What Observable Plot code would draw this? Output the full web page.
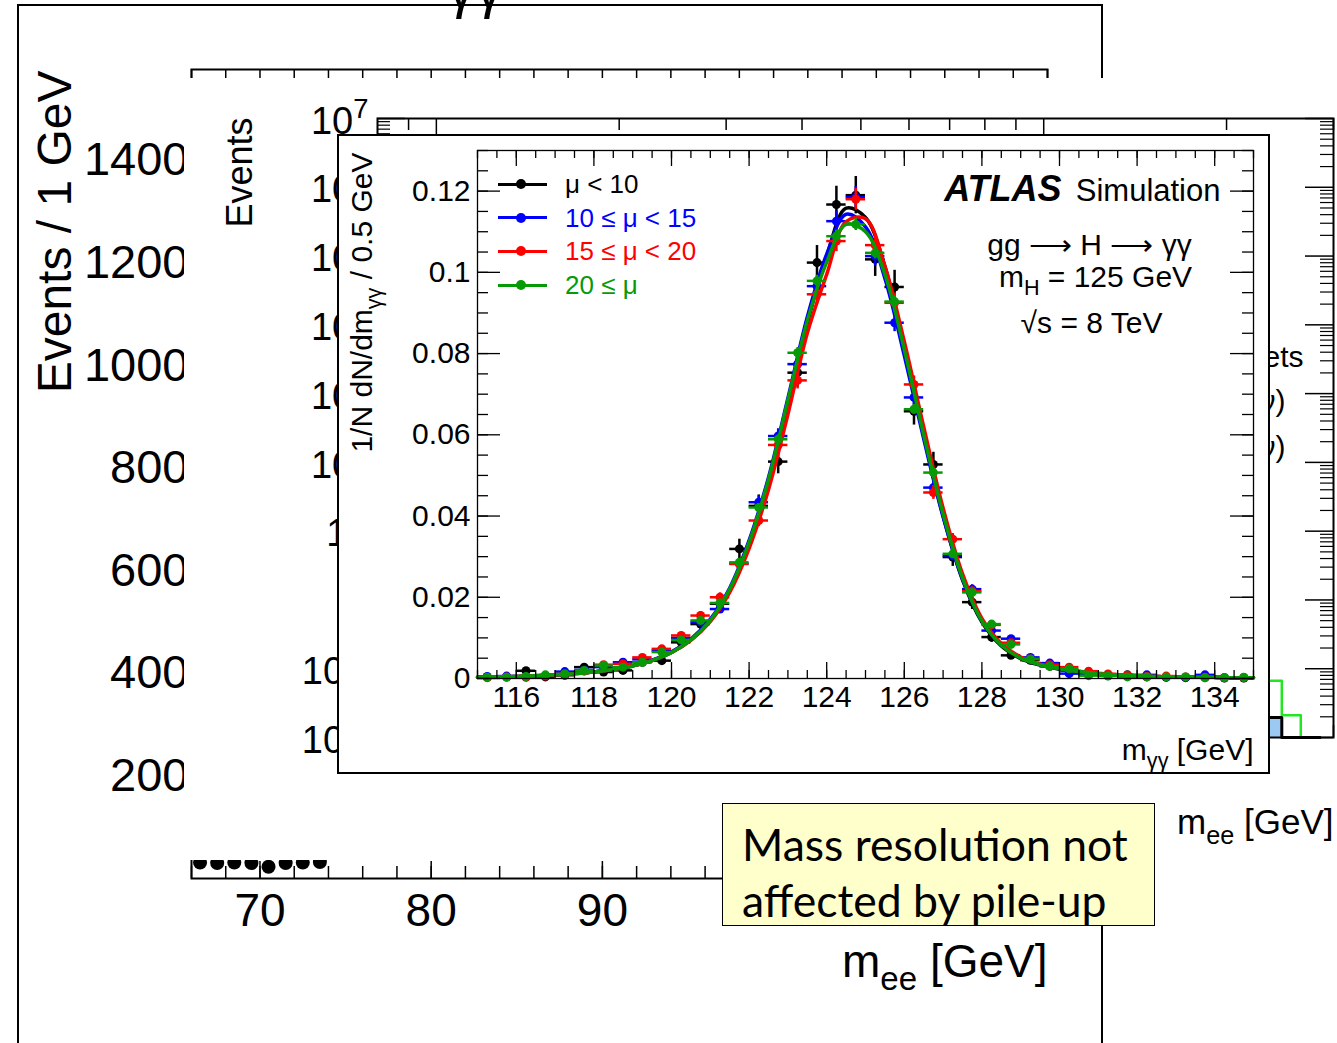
<!DOCTYPE html>
<html><head><meta charset="utf-8">
<script src="https://cdn.jsdelivr.net/npm/d3@7"></script>
<script src="https://cdn.jsdelivr.net/npm/@observablehq/plot@0.6"></script>
<style>
html,body{margin:0;padding:0;width:1337px;height:1043px;overflow:hidden;background:#fff;font-family:"Liberation Sans",Arial,Helvetica,sans-serif;}
.abs{position:absolute;}
#p1{left:17px;top:4px;width:1086px;height:1100px;border:2px solid #000;box-sizing:border-box;background:#fff;}
#p2{left:184px;top:78px;width:1153px;height:782px;background:#fff;}
#p3{left:337px;top:134px;width:933px;height:640px;border:2px solid #000;box-sizing:border-box;background:#fff;}
#note{left:722px;top:803px;width:433px;height:123px;border:1.5px solid #000;box-sizing:border-box;background:#ffffcc;font-family:Lato,"Open Sans",sans-serif;font-size:44.5px;color:#000;}
#note div{position:absolute;left:19px;white-space:nowrap;line-height:44.5px;}
#frag{left:447px;top:-40px;font-size:56px;line-height:56px;}
.panel svg{position:absolute;left:0;top:0;}
</style></head>
<body>
<div id="p1" class="abs panel"></div>
<div id="frag" class="abs">γγ</div>
<div id="p2" class="abs panel"></div>
<div id="p3" class="abs panel"></div>
<div id="note" class="abs"><div style="top:18px">Mass resolution not</div><div style="top:74px">affected by pile-up</div></div>
<script>
// ================= DATA =================
// Front panel: ATLAS Simulation, gg -> H -> yy, normalised m_yy per 0.5 GeV
const massBins = [115.25,115.75,116.25,116.75,117.25,117.75,118.25,118.75,119.25,119.75,120.25,120.75,121.25,121.75,122.25,122.75,123.25,123.75,124.25,124.75,125.25,125.75,126.25,126.75,127.25,127.75,128.25,128.75,129.25,129.75,130.25,130.75,131.25,131.75,132.25,132.75,133.25,133.75,134.25,134.75];
const binHalfWidth = 0.25;
const fitMass = [115,115.5,116,116.5,117,117.5,118,118.5,119,119.5,120,120.5,121,121.5,122,122.5,123,123.5,124,124.5,125,125.5,126,126.5,127,127.5,128,128.5,129,129.5,130,130.5,131,131.5,132,132.5,133,133.5,134,134.5,135];
const seriesLabels = ["μ < 10", "10 ≤ μ < 15", "15 ≤ μ < 20", "20 ≤ μ"];
const seriesColors = ["#000000", "#0000ff", "#ff0000", "#079a07"];

const valMu0 = [0.0003,0.0004,0.0019,0.0004,0.0008,0.0028,0.0016,0.0020,0.0040,0.0044,0.0089,0.0134,0.0184,0.0319,0.0425,0.0534,0.0753,0.1024,0.1167,0.1190,0.1032,0.0964,0.0658,0.0527,0.0299,0.0188,0.0102,0.0057,0.0045,0.0030,0.0020,0.0012,0.0008,0.0009,0.0004,0.0003,0.0002,0.0002,0.0001,0.0001];
const errMu0 = [0.0002,0.0003,0.0006,0.0003,0.0004,0.0007,0.0005,0.0006,0.0008,0.0009,0.0012,0.0015,0.0018,0.0024,0.0027,0.0030,0.0036,0.0042,0.0045,0.0046,0.0042,0.0041,0.0034,0.0030,0.0023,0.0018,0.0013,0.0010,0.0009,0.0007,0.0006,0.0005,0.0004,0.0004,0.0003,0.0002,0.0002,0.0002,0.0001,0.0001];
const fitMu0 = [0.0003,0.0004,0.0005,0.0007,0.0009,0.0012,0.0016,0.0022,0.0031,0.0044,0.0064,0.0095,0.0143,0.0218,0.0330,0.0482,0.0675,0.0875,0.1040,0.1158,0.1135,0.1015,0.0815,0.0598,0.0400,0.0243,0.0139,0.0080,0.0049,0.0033,0.0023,0.0016,0.0012,0.0009,0.0007,0.0005,0.0004,0.0003,0.0003,0.0002,0.0002];

const valMu1 = [0.0005,0.0006,0.0004,0.0007,0.0017,0.0021,0.0028,0.0040,0.0047,0.0069,0.0100,0.0139,0.0171,0.0283,0.0434,0.0597,0.0774,0.0966,0.1126,0.1185,0.1040,0.0876,0.0692,0.0470,0.0303,0.0220,0.0118,0.0098,0.0052,0.0038,0.0012,0.0010,0.0007,0.0006,0.0009,0.0004,0.0003,0.0009,0.0002,0.0002];
const errMu1 = [0.0002,0.0002,0.0002,0.0002,0.0003,0.0003,0.0004,0.0005,0.0005,0.0006,0.0008,0.0009,0.0010,0.0013,0.0016,0.0018,0.0021,0.0023,0.0025,0.0026,0.0024,0.0022,0.0020,0.0016,0.0013,0.0011,0.0008,0.0007,0.0005,0.0005,0.0003,0.0002,0.0002,0.0002,0.0002,0.0002,0.0001,0.0002,0.0001,0.0001];
const fitMu1 = [0.0003,0.0004,0.0005,0.0007,0.0009,0.0012,0.0016,0.0022,0.0031,0.0045,0.0066,0.0097,0.0146,0.0223,0.0340,0.0495,0.0690,0.0890,0.1045,0.1143,0.1112,0.0985,0.0795,0.0590,0.0398,0.0245,0.0142,0.0083,0.0051,0.0034,0.0024,0.0017,0.0012,0.0009,0.0007,0.0005,0.0004,0.0003,0.0003,0.0002,0.0002];

const valMu2 = [0.0002,0.0004,0.0003,0.0006,0.0011,0.0018,0.0034,0.0036,0.0052,0.0073,0.0106,0.0155,0.0200,0.0282,0.0389,0.0575,0.0734,0.0946,0.1077,0.1180,0.1067,0.0925,0.0724,0.0458,0.0343,0.0215,0.0132,0.0088,0.0048,0.0034,0.0028,0.0018,0.0011,0.0008,0.0005,0.0006,0.0004,0.0003,0.0002,0.0002];
const errMu2 = [0.0001,0.0002,0.0001,0.0002,0.0003,0.0003,0.0005,0.0005,0.0006,0.0007,0.0008,0.0010,0.0011,0.0013,0.0015,0.0019,0.0021,0.0024,0.0026,0.0027,0.0025,0.0024,0.0021,0.0017,0.0014,0.0011,0.0009,0.0007,0.0005,0.0005,0.0004,0.0003,0.0003,0.0002,0.0002,0.0002,0.0002,0.0001,0.0001,0.0001];
const fitMu2 = [0.0003,0.0004,0.0005,0.0007,0.0009,0.0012,0.0016,0.0022,0.0031,0.0044,0.0064,0.0094,0.0140,0.0212,0.0320,0.0465,0.0650,0.0850,0.0995,0.1125,0.1132,0.1015,0.0830,0.0620,0.0420,0.0258,0.0148,0.0086,0.0053,0.0035,0.0025,0.0018,0.0013,0.0009,0.0007,0.0005,0.0004,0.0003,0.0003,0.0002,0.0002];

const valMu3 = [0.0003,0.0003,0.0005,0.0009,0.0011,0.0020,0.0032,0.0028,0.0040,0.0065,0.0095,0.0143,0.0186,0.0286,0.0421,0.0589,0.0802,0.0979,0.1089,0.1118,0.1048,0.0928,0.0663,0.0507,0.0307,0.0212,0.0134,0.0084,0.0048,0.0030,0.0024,0.0007,0.0006,0.0004,0.0004,0.0004,0.0004,0.0002,0.0002,0.0003];
const errMu3 = [0.0001,0.0001,0.0001,0.0001,0.0002,0.0002,0.0003,0.0002,0.0003,0.0004,0.0004,0.0005,0.0006,0.0008,0.0009,0.0011,0.0013,0.0014,0.0015,0.0015,0.0015,0.0014,0.0012,0.0010,0.0008,0.0007,0.0005,0.0004,0.0003,0.0003,0.0002,0.0001,0.0001,0.0001,0.0001,0.0001,0.0001,0.0001,0.0001,0.0001];
const fitMu3 = [0.0003,0.0004,0.0005,0.0007,0.0009,0.0012,0.0016,0.0022,0.0031,0.0044,0.0064,0.0095,0.0143,0.0220,0.0335,0.0490,0.0685,0.0880,0.1025,0.1118,0.1100,0.0995,0.0810,0.0600,0.0405,0.0248,0.0142,0.0082,0.0050,0.0034,0.0024,0.0017,0.0012,0.0009,0.0007,0.0005,0.0004,0.0003,0.0003,0.0002,0.0002];

const yyTickLabels = [116,118,120,122,124,126,128,130,132,134];
const yyYTickLabels = [0,0.02,0.04,0.06,0.08,0.1,0.12];

// Back panel 1: Z -> ee, Events / 1 GeV (only the visible corner)
const eeBins = [66.5,67.5,68.5,69.5,70.5,71.5,72.5,73.5];
const eeEvents = [31,30,31,30,23,30,31,32];
const eeYTickLabels = [200,400,600,800,1000,1200,1400];
const eeXTickLabels = [70,80,90];

// Back panel 2: log-log m_ee spectrum (only the visible right edge)
const spectrumEdges = [2300, 2466, 2650, 2850];
const greenHist = [0.067, 0.021, 0.004];
const blueHist = [0.0195, 0, 0];
const blackHist = [0.0195, 0.004, 0.004];
const spectrumLegend = ["W+jets", "W(→eν)", "W(→τν)"];

// ================= HELPERS =================
const FONT = '"Liberation Sans", Arial, Helvetica, sans-serif';
function richify(svg) {
  svg.querySelectorAll("text").forEach(el => {
    const s = el.textContent;
    if (!/[_^]\{/.test(s)) return;
    const fs = parseFloat(getComputedStyle(el).fontSize) || 16;
    const parts = s.split(/([_^]\{[^}]*\})/).filter(p => p.length);
    el.textContent = "";
    let shift = 0;
    for (const p of parts) {
      let txt = p, off = 0, size = null;
      if (p[0] === "_") { txt = p.slice(2, -1); off = 0.28 * fs; size = 0.72 * fs; }
      else if (p[0] === "^") { txt = p.slice(2, -1); off = -0.42 * fs; size = 0.72 * fs; }
      const t = document.createElementNS("http://www.w3.org/2000/svg", "tspan");
      t.setAttribute("dy", (off - shift).toFixed(2));
      if (size) t.setAttribute("font-size", size.toFixed(1));
      t.textContent = txt;
      el.appendChild(t);
      shift = off;
    }
  });
}
function mount(id, svg) {
  document.getElementById(id).appendChild(svg);
  richify(svg);
}

// ================= PANEL 1 =================
{
  const W = 1082, H = 1040, mL = 172, mR = 54, mT = 63, mB = 168;
  const fh = H - mT - mB;
  const ticks2 = d3.range(66, 116.01, 2);
  const ticks10 = d3.range(70, 116, 10);
  const pts = eeBins.map((m, i) => ({m, n: eeEvents[i]}));
  const svg = Plot.plot({
    width: W, height: H, marginLeft: mL, marginRight: mR, marginTop: mT, marginBottom: mB,
    style: {fontFamily: FONT, background: "transparent"},
    x: {domain: [66, 116]}, y: {domain: [0, 1577]},
    marks: [
      Plot.frame({stroke: "#000", strokeWidth: 2}),
      Plot.tickX(ticks2, {x: d => d, insetBottom: fh - 10, stroke: "#000", strokeWidth: 1.5}),
      Plot.tickX(ticks2, {x: d => d, insetTop: fh - 12, stroke: "#000", strokeWidth: 1.5}),
      Plot.tickX(ticks10, {x: d => d, insetTop: fh - 17, stroke: "#000", strokeWidth: 1.5}),
      Plot.axisY({ticks: eeYTickLabels, tickSize: 0, tickPadding: 3, fontSize: 47, tickFormat: d => String(d), label: null}),
      Plot.axisX({ticks: eeXTickLabels, tickSize: 0, tickPadding: 15, fontSize: 46, tickFormat: d => String(d), label: null}),
      Plot.dot(pts, {x: "m", y: "n", r: 7, fill: "#000"}),
      Plot.text(["Events / 1 GeV"], {frameAnchor: "top-left", dx: -136, dy: 1, rotate: -90, textAnchor: "end", lineAnchor: "middle", fontSize: 48, fill: "#000"}),
      Plot.text(["m_{ee} [GeV]"], {frameAnchor: "bottom-right", dx: 0, dy: 84, textAnchor: "end", lineAnchor: "middle", fontSize: 46, fill: "#000"})
    ]
  });
  mount("p1", svg);
}

// ================= PANEL 2 =================
{
  const W = 1153, H = 782, mL = 193, mR = 4, mT = 40, mB = 123;
  const fh = H - mT - mB, fw = W - mL - mR;
  const yMin = 0.01;
  const decades = [0.01, 0.1, 1, 10, 1e2, 1e3, 1e4, 1e5, 1e6, 1e7];
  const minorY = decades.slice(0, -1).flatMap(d => d3.range(2, 10).map(k => k * d));
  const majorX = [100, 1000];
  const minorX = [90, 200, 300, 400, 500, 600, 700, 800, 900, 2000, 3000];
  const step = vals => vals.flatMap((v, i) => [
    {m: spectrumEdges[i], v: Math.max(v, yMin)}, {m: spectrumEdges[i + 1], v: Math.max(v, yMin)}]);
  const blueRects = blueHist.map((v, i) => ({x1: spectrumEdges[i], x2: spectrumEdges[i + 1], v})).filter(d => d.v > yMin);
  const fmt = d => { const e = Math.round(Math.log10(d)); return e === 0 ? "1" : e === 1 ? "10" : "10^{" + e + "}"; };
  const svg = Plot.plot({
    width: W, height: H, marginLeft: mL, marginRight: mR, marginTop: mT, marginBottom: mB,
    style: {fontFamily: FONT, background: "transparent"},
    x: {type: "log", domain: [80, 3000], axis: null},
    y: {type: "log", domain: [yMin, 1e7]},
    marks: [
      Plot.rect(blueRects, {x1: "x1", x2: "x2", y1: () => yMin, y2: "v", fill: "#9cc8f4"}),
      Plot.line(step(greenHist), {x: "m", y: "v", stroke: "#22e622", strokeWidth: 2.5}),
      Plot.line(step(blackHist), {x: "m", y: "v", stroke: "#000", strokeWidth: 3}),
      Plot.frame({stroke: "#000", strokeWidth: 2}),
      Plot.tickX(majorX, {x: d => d, insetBottom: fh - 23, stroke: "#000", strokeWidth: 1.5}),
      Plot.tickX(minorX, {x: d => d, insetBottom: fh - 12, stroke: "#000", strokeWidth: 1.5}),
      Plot.tickX(majorX, {x: d => d, insetTop: fh - 23, stroke: "#000", strokeWidth: 1.5}),
      Plot.tickX(minorX, {x: d => d, insetTop: fh - 12, stroke: "#000", strokeWidth: 1.5}),
      Plot.tickY(decades, {y: d => d, insetRight: fw - 28, stroke: "#000", strokeWidth: 1.5}),
      Plot.tickY(minorY, {y: d => d, insetRight: fw - 13, stroke: "#000", strokeWidth: 1.2}),
      Plot.tickY(decades, {y: d => d, insetLeft: fw - 28, stroke: "#000", strokeWidth: 1.5}),
      Plot.tickY(minorY, {y: d => d, insetLeft: fw - 13, stroke: "#000", strokeWidth: 1.2}),
      Plot.axisY({ticks: decades, tickSize: 0, tickPadding: 9, dy: 3, fontSize: 38, tickFormat: fmt, label: null}),
      Plot.text(["Events"], {frameAnchor: "top-left", dx: -137, dy: -1, rotate: -90, textAnchor: "end", lineAnchor: "middle", fontSize: 36, fill: "#000"}),
      Plot.text([spectrumLegend[0]], {frameAnchor: "top-right", dx: -30, dy: 239, textAnchor: "end", lineAnchor: "middle", fontSize: 30, fill: "#000"}),
      Plot.text([spectrumLegend[1]], {frameAnchor: "top-right", dx: -48, dy: 283, textAnchor: "end", lineAnchor: "middle", fontSize: 30, fill: "#000"}),
      Plot.text([spectrumLegend[2]], {frameAnchor: "top-right", dx: -48, dy: 329, textAnchor: "end", lineAnchor: "middle", fontSize: 30, fill: "#000"}),
      Plot.text(["m_{ee} [GeV]"], {frameAnchor: "bottom-right", dx: 0, dy: 85, textAnchor: "end", lineAnchor: "middle", fontSize: 35, fill: "#000"})
    ]
  });
  mount("p2", svg);
}

// ================= PANEL 3 (front) =================
{
  const W = 929, H = 636, mL = 138, mR = 15, mT = 14, mB = 94;
  const fh = H - mT - mB, fw = W - mL - mR;
  const minorX = d3.range(115, 135.01, 0.5);
  const majorX = d3.range(116, 135, 2);
  const minorY = d3.range(0, 0.1301, 0.005);
  const majorY = yyYTickLabels;
  const vals = [valMu0, valMu1, valMu2, valMu3];
  const errs = [errMu0, errMu1, errMu2, errMu3];
  const fits = [fitMu0, fitMu1, fitMu2, fitMu3];
  const dataMarks = [];
  vals.forEach((vv, s) => {
    const color = seriesColors[s];
    const pts = massBins.map((m, i) => ({m, v: vv[i], e: errs[s][i]}));
    const fit = fitMass.map((m, i) => ({m, v: fits[s][i]}));
    dataMarks.push(
      Plot.ruleY(pts, {y: "v", x1: d => d.m - binHalfWidth, x2: d => d.m + binHalfWidth, stroke: color, strokeWidth: 2.5}),
      Plot.ruleX(pts, {x: "m", y1: d => d.v - d.e, y2: d => d.v + d.e, stroke: color, strokeWidth: 2.5}),
      Plot.dot(pts, {x: "m", y: "v", r: 4.5, fill: color}),
      Plot.line(fit, {x: "m", y: "v", stroke: color, strokeWidth: 3.5, curve: "catmull-rom"})
    );
  });
  const svg = Plot.plot({
    width: W, height: H, marginLeft: mL, marginRight: mR, marginTop: mT, marginBottom: mB,
    style: {fontFamily: FONT, background: "transparent"},
    x: {domain: [115, 135]}, y: {domain: [0, 0.13]},
    marks: [
      ...dataMarks,
      Plot.frame({stroke: "#000", strokeWidth: 1.3}),
      Plot.tickX(minorX, {x: d => d, insetTop: fh - 8, stroke: "#000", strokeWidth: 1.3}),
      Plot.tickX(majorX, {x: d => d, insetTop: fh - 16, stroke: "#000", strokeWidth: 1.3}),
      Plot.tickX(minorX, {x: d => d, insetBottom: fh - 8, stroke: "#000", strokeWidth: 1.3}),
      Plot.tickX(majorX, {x: d => d, insetBottom: fh - 16, stroke: "#000", strokeWidth: 1.3}),
      Plot.tickY(minorY, {y: d => d, insetRight: fw - 11, stroke: "#000", strokeWidth: 1.3}),
      Plot.tickY(majorY, {y: d => d, insetRight: fw - 23, stroke: "#000", strokeWidth: 1.3}),
      Plot.tickY(minorY, {y: d => d, insetLeft: fw - 11, stroke: "#000", strokeWidth: 1.3}),
      Plot.tickY(majorY, {y: d => d, insetLeft: fw - 23, stroke: "#000", strokeWidth: 1.3}),
      Plot.axisX({ticks: yyTickLabels, tickSize: 0, tickPadding: 7, fontSize: 30, tickFormat: d => String(d), label: null}),
      Plot.axisY({ticks: yyYTickLabels, tickSize: 0, tickPadding: 7, fontSize: 30, tickFormat: d => String(+d.toFixed(2)), label: null}),
      Plot.text(["1/N dN/dm_{γγ} / 0.5 GeV"], {frameAnchor: "top-left", dx: -115, dy: 2, rotate: -90, textAnchor: "end", lineAnchor: "middle", fontSize: 30, fill: "#000"}),
      Plot.text(["m_{γγ} [GeV]"], {frameAnchor: "bottom-right", dx: 0, dy: 81, textAnchor: "end", lineAnchor: "bottom", fontSize: 30, fill: "#000"}),
      Plot.text(["ATLAS"], {frameAnchor: "top-right", dx: -192, dy: 50, textAnchor: "end", lineAnchor: "bottom", fontSize: 36, fontWeight: "bold", fontStyle: "italic", fill: "#000"}),
      Plot.text(["Simulation"], {frameAnchor: "top-right", dx: -33, dy: 50, textAnchor: "end", lineAnchor: "bottom", fontSize: 31, fill: "#000"}),
      Plot.text(["gg ⟶ H ⟶ γγ"], {frameAnchor: "top-right", dx: -164, dy: 104, textAnchor: "middle", lineAnchor: "bottom", fontSize: 30, fill: "#000"}),
      Plot.text(["m_{H} = 125 GeV"], {frameAnchor: "top-right", dx: -158, dy: 136, textAnchor: "middle", lineAnchor: "bottom", fontSize: 30, fill: "#000"}),
      Plot.text(["√s = 8 TeV"], {frameAnchor: "top-right", dx: -162, dy: 182, textAnchor: "middle", lineAnchor: "bottom", fontSize: 30, fill: "#000"})
    ]
  });
  mount("p3", svg);

  // Legend (HTML overlay inside the front panel, inner coordinates)
  const p3 = document.getElementById("p3");
  seriesLabels.forEach((lab, i) => {
    const cy = 48 + i * 33.7;
    const c = seriesColors[i];
    const line = document.createElement("div");
    line.className = "abs";
    line.style.cssText = `left:159px;top:${cy - 1.5}px;width:49px;height:3px;background:${c}`;
    const dot = document.createElement("div");
    dot.className = "abs";
    dot.style.cssText = `left:177px;top:${cy - 5}px;width:10px;height:10px;border-radius:50%;background:${c}`;
    const txt = document.createElement("div");
    txt.className = "abs";
    txt.style.cssText = `left:226px;top:${cy - 15}px;font-size:26px;line-height:30px;color:${c};white-space:nowrap`;
    txt.textContent = lab;
    p3.append(line, dot, txt);
  });
}
</script>
</body></html>
